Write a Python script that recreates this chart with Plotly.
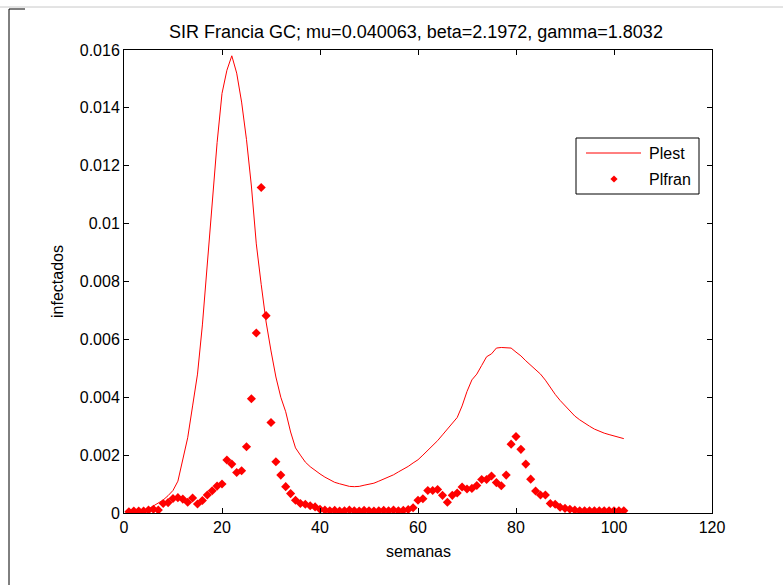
import plotly.graph_objects as go

weeks = list(range(1, 103))

plest = [
    0.00003, 0.00005, 0.00007, 0.0001, 0.00014, 0.00024, 0.00034, 0.00045, 0.0006, 0.00078,
    0.0011, 0.0018, 0.0026, 0.0037, 0.0048, 0.0065, 0.0086, 0.0106, 0.0128, 0.0145,
    0.0153, 0.0158, 0.0152, 0.0142, 0.0129, 0.0113, 0.0093, 0.0079, 0.0066, 0.0056,
    0.0047, 0.0040, 0.0035, 0.0028, 0.00225, 0.0020, 0.00176, 0.0016, 0.00146, 0.00135,
    0.00124, 0.00115, 0.00106, 0.00101, 0.00096, 0.00092, 0.00091, 0.00092, 0.00096, 0.0010,
    0.00103, 0.0011, 0.00117, 0.00123, 0.00132, 0.00142, 0.00151, 0.00161, 0.00173, 0.00184,
    0.0020, 0.00216, 0.00233, 0.0025, 0.0027, 0.0029, 0.0031, 0.0033, 0.0037, 0.0042,
    0.0046, 0.0048, 0.0051, 0.0054, 0.0055, 0.0057, 0.00572, 0.00572, 0.0057, 0.00556,
    0.00543, 0.00526, 0.0051, 0.00495, 0.0048, 0.00459, 0.00434, 0.0041, 0.00389, 0.0037,
    0.00352, 0.00335, 0.00322, 0.0031, 0.0030, 0.0029, 0.00282, 0.00276, 0.00271, 0.00266,
    0.00261, 0.00257,
]

plfran = [
    0.000045, 0.00007, 0.00007, 0.00007, 0.0001, 0.00013, 0.0001, 0.00033, 0.00036, 0.0005,
    0.00053, 0.00048, 0.00037, 0.00052, 0.00031, 0.00043, 0.00062, 0.00077, 0.00093, 0.0010,
    0.00183, 0.00169, 0.0014, 0.00146, 0.00229, 0.00395, 0.00622, 0.01125, 0.00682, 0.00313,
    0.00177, 0.00131, 0.00091, 0.00067, 0.00044, 0.00033, 0.0003, 0.00025, 0.00021, 0.00013,
    0.0001, 0.00008, 0.00009, 0.00007, 0.00008, 0.0001, 0.00008, 0.00007, 0.00009, 0.00008,
    0.00007, 0.00008, 0.00009, 0.00008, 0.0001, 0.00008, 0.00009, 0.00012, 0.00018, 0.00044,
    0.00049, 0.00078, 0.00078, 0.00081, 0.00061, 0.00037, 0.00061, 0.00069, 0.0009, 0.00083,
    0.00085, 0.00095, 0.00116, 0.00116, 0.00128, 0.00105, 0.00094, 0.00131, 0.00238, 0.00264,
    0.0022, 0.00169, 0.00117, 0.00076, 0.00062, 0.00062, 0.00033, 0.0003, 0.0002, 0.00016,
    0.00013, 0.0001, 0.00008, 0.00008, 0.00008, 0.00008, 0.00008, 0.00008, 0.00008, 0.00008,
    0.00008, 0.00008,
]

series_names = ["Plest", "Plfran"]

x_ticks = [0, 20, 40, 60, 80, 100, 120]
y_ticks = [0, 0.002, 0.004, 0.006, 0.008, 0.01, 0.012, 0.014, 0.016]
y_tick_labels = ["0", "0.002", "0.004", "0.006", "0.008", "0.01", "0.012", "0.014", "0.016"]

title_text = "SIR Francia GC; mu=0.040063, beta=2.1972, gamma=1.8032"
x_label = "semanas"
y_label = "infectados"

FONT = "Liberation Sans, Arial, sans-serif"
RED = "#ff0000"

fig = go.Figure()
fig.add_trace(go.Scatter(
    x=weeks, y=plest, mode="lines", name=series_names[0],
    line=dict(color=RED, width=1), showlegend=False,
))
fig.add_trace(go.Scatter(
    x=weeks, y=plfran, mode="markers", name=series_names[1],
    marker=dict(symbol="diamond", size=7, color=RED, line=dict(width=0)), showlegend=False,
))

L, R, T, B = 124, 71, 50, 72
W, H = 783, 585
pw, ph = W - L - R, H - T - B

def px(xp):
    return (xp - L) / pw

def py(yp):
    return (H - B - yp) / ph

axis_common = dict(
    showline=True, linecolor="black", linewidth=1, mirror="ticks",
    ticks="inside", ticklen=5, tickcolor="black", tickwidth=1,
    showgrid=False, zeroline=False,
    tickfont=dict(family=FONT, size=16, color="black"),
)

fig.update_layout(
    width=W, height=H, autosize=False,
    margin=dict(l=L, r=R, t=T, b=B),
    paper_bgcolor="white", plot_bgcolor="white",
    title=dict(text=title_text, xref="container", x=416 / W, xanchor="center",
               yref="container", y=1 - 32 / H, yanchor="middle",
               font=dict(family=FONT, size=18, color="black")),
    xaxis=dict(range=[0, 120], tickvals=x_ticks, **axis_common),
    yaxis=dict(range=[0, 0.016], tickvals=y_ticks, ticktext=y_tick_labels, **axis_common),
    showlegend=False,
)

# axis labels
fig.add_annotation(text=x_label, xref="paper", yref="paper", x=px(418), y=py(551),
                   xanchor="center", yanchor="middle", showarrow=False,
                   font=dict(family=FONT, size=16, color="black"))
fig.add_annotation(text=y_label, xref="paper", yref="paper", x=px(57), y=py(282),
                   xanchor="center", yanchor="middle", showarrow=False, textangle=-90,
                   font=dict(family=FONT, size=16, color="black"))

# legend (drawn manually to match box geometry)
fig.add_shape(type="rect", xref="paper", yref="paper",
              x0=px(576), x1=px(699), y0=py(138), y1=py(194),
              line=dict(color="black", width=1), fillcolor="white", layer="above")
fig.add_shape(type="line", xref="paper", yref="paper",
              x0=px(586), x1=px(641), y0=py(153), y1=py(153),
              line=dict(color=RED, width=1), layer="above")
cx, cy, r = 614, 179, 3.6
fig.add_shape(type="path", xref="paper", yref="paper", layer="above",
              path=f"M {px(cx - r)} {py(cy)} L {px(cx)} {py(cy - r)} L {px(cx + r)} {py(cy)} L {px(cx)} {py(cy + r)} Z",
              fillcolor=RED, line=dict(color=RED, width=0))
for name, yy in zip(series_names, [153, 179]):
    fig.add_annotation(text=name, xref="paper", yref="paper", x=px(647), y=py(yy),
                       xanchor="left", yanchor="middle", showarrow=False,
                       font=dict(family=FONT, size=16, color="black"))

# screenshot frame lines
fig.add_shape(type="line", xref="paper", yref="paper",
              x0=px(0), x1=px(W), y0=py(7), y1=py(7), line=dict(color="#c8c8c8", width=1))
fig.add_shape(type="line", xref="paper", yref="paper",
              x0=px(9), x1=px(25), y0=py(9), y1=py(9), line=dict(color="black", width=1))
fig.add_shape(type="line", xref="paper", yref="paper",
              x0=px(9), x1=px(9), y0=py(9), y1=py(H), line=dict(color="black", width=1))

fig.write_html("out.html")
